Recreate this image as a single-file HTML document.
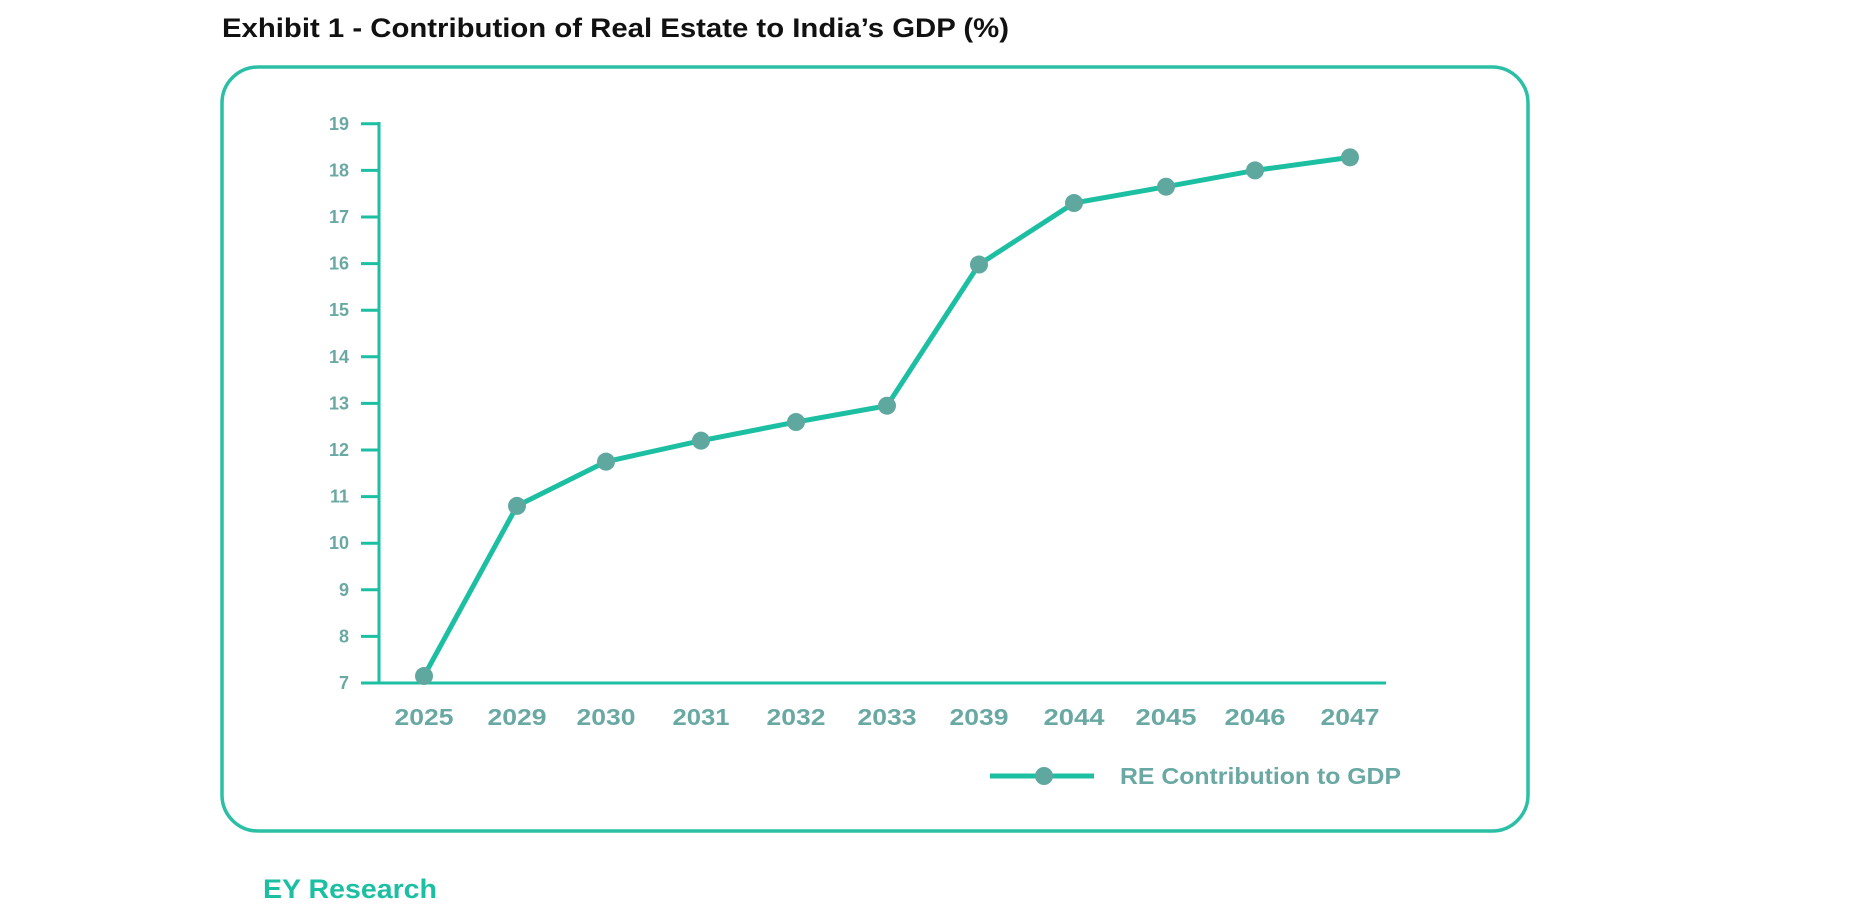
<!DOCTYPE html>
<html><head><meta charset="utf-8"><style>
body{margin:0;background:#fff;width:1857px;height:908px;overflow:hidden;font-family:"Liberation Sans",sans-serif}
</style></head><body>
<svg width="1857" height="908" xmlns="http://www.w3.org/2000/svg" font-family="Liberation Sans, sans-serif">
<text x="222" y="37" font-size="27" font-weight="bold" fill="#111" textLength="787" lengthAdjust="spacingAndGlyphs">Exhibit 1 - Contribution of Real Estate to India’s GDP (%)</text>
<rect x="222" y="67" width="1306" height="764" rx="36" ry="36" fill="#fff" stroke="#2bbfa6" stroke-width="3.5"/>
<g stroke="#1dbfa3" stroke-width="3">
<line x1="379" y1="122" x2="379" y2="684"/>
<line x1="377" y1="683" x2="1386" y2="683"/>
</g>
<g stroke="#1dbfa3" stroke-width="3" id="ticks"></g>
<g font-size="18" font-weight="bold" fill="#6aa9a3" text-anchor="end" id="ylab"></g>
<g font-size="23" font-weight="bold" fill="#6aa9a3" text-anchor="middle">
<text x="424" y="725" textLength="59" lengthAdjust="spacingAndGlyphs">2025</text><text x="517" y="725" textLength="59" lengthAdjust="spacingAndGlyphs">2029</text><text x="606" y="725" textLength="59" lengthAdjust="spacingAndGlyphs">2030</text><text x="701" y="725" textLength="57" lengthAdjust="spacingAndGlyphs">2031</text><text x="796" y="725" textLength="59" lengthAdjust="spacingAndGlyphs">2032</text><text x="887" y="725" textLength="59" lengthAdjust="spacingAndGlyphs">2033</text><text x="979" y="725" textLength="59" lengthAdjust="spacingAndGlyphs">2039</text><text x="1074" y="725" textLength="61" lengthAdjust="spacingAndGlyphs">2044</text><text x="1166" y="725" textLength="61" lengthAdjust="spacingAndGlyphs">2045</text><text x="1255" y="725" textLength="61" lengthAdjust="spacingAndGlyphs">2046</text><text x="1350" y="725" textLength="59" lengthAdjust="spacingAndGlyphs">2047</text>
</g>
<polyline id="ln" fill="none" stroke="#1dbfa3" stroke-width="5" stroke-linejoin="round"/>
<g id="dots" fill="#5fa8a0"></g>
<line x1="990" y1="776" x2="1094" y2="776" stroke="#1dbfa3" stroke-width="5"/>
<circle cx="1044" cy="776" r="9" fill="#5fa8a0"/>
<text x="1120" y="784" font-size="23" font-weight="bold" fill="#6aa9a3" textLength="281" lengthAdjust="spacingAndGlyphs">RE Contribution to GDP</text>
<text x="263" y="898" font-size="27" font-weight="bold" fill="#1dbfa3" textLength="174" lengthAdjust="spacingAndGlyphs">EY Research</text>
</svg>
<script>
var ns="http://www.w3.org/2000/svg";
function Y(v){return 683-(v-7)*46.6;}
var t=document.getElementById("ticks"),yl=document.getElementById("ylab");
for(var v=7;v<=19;v++){var y=Y(v);
var l=document.createElementNS(ns,"line");l.setAttribute("x1",361);l.setAttribute("x2",379);l.setAttribute("y1",y);l.setAttribute("y2",y);t.appendChild(l);
var s=document.createElementNS(ns,"text");s.setAttribute("x",349);s.setAttribute("y",y+6);s.textContent=v;yl.appendChild(s);}
var xs=[424,517,606,701,796,887,979,1074,1166,1255,1350],vs=[7.15,10.8,11.75,12.2,12.6,12.95,15.98,17.3,17.65,18.0,18.28];
var pts=[],d=document.getElementById("dots");
for(var i=0;i<xs.length;i++){pts.push(xs[i]+","+Y(vs[i]));var c=document.createElementNS(ns,"circle");c.setAttribute("cx",xs[i]);c.setAttribute("cy",Y(vs[i]));c.setAttribute("r",9);d.appendChild(c);}
document.getElementById("ln").setAttribute("points",pts.join(" "));
</script>
</body></html>
